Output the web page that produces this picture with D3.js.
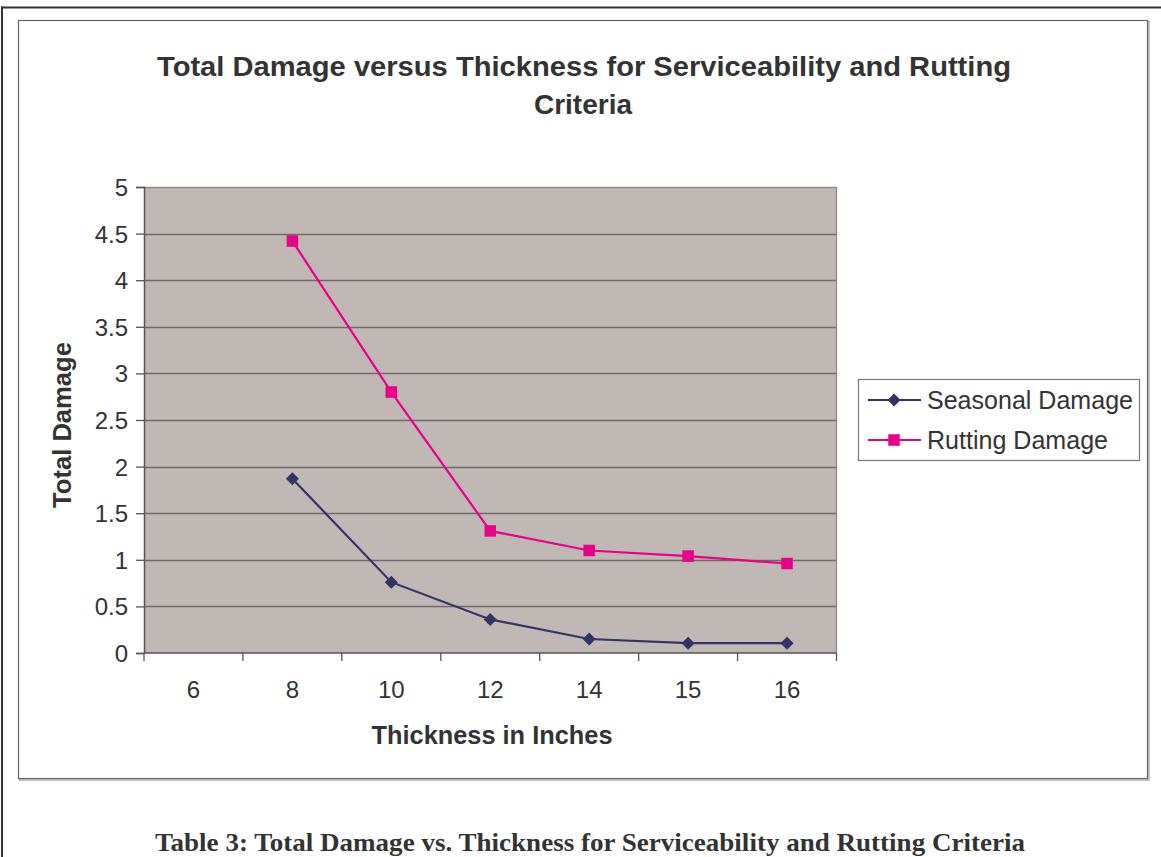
<!DOCTYPE html>
<html>
<head>
<meta charset="utf-8">
<script src="https://cdn.jsdelivr.net/npm/d3@7"></script>
<style>
  html, body { margin: 0; padding: 0; background: #fff; }
  svg { display: block; }
</style>
</head>
<body>
<svg id="chart" width="1161" height="857"></svg>
<script>
// ---- data ----
const categories = ["6", "8", "10", "12", "14", "15", "16"];
const seasonalDamage = [null, 1.87, 0.76, 0.36, 0.15, 0.105, 0.105];
const ruttingDamage = [null, 4.42, 2.80, 1.31, 1.10, 1.04, 0.96];
const yTicks = [0, 0.5, 1, 1.5, 2, 2.5, 3, 3.5, 4, 4.5, 5];
const seriesNames = ["Seasonal Damage", "Rutting Damage"];
const titleLines = ["Total Damage versus Thickness for Serviceability and Rutting", "Criteria"];
const xTitle = "Thickness in Inches";
const yTitle = "Total Damage";
const caption = "Table 3: Total Damage vs. Thickness for Serviceability and Rutting Criteria";

const colors = { seasonal: "#333366", rutting: "#E8008A", text: "#333333", plotBg: "#C0B8B5", grid: "#6E6A6A" };
const sans = "'Liberation Sans', Arial, sans-serif";
const serif = "'Liberation Serif', 'Times New Roman', serif";

const svg = d3.select("#chart");

// outer page frame
svg.append("line").attr("x1", 1).attr("x2", 1161).attr("y1", 7.5).attr("y2", 7.5)
  .attr("stroke", "#333").attr("stroke-width", 2);
svg.append("line").attr("x1", 2).attr("x2", 2).attr("y1", 6.5).attr("y2", 857)
  .attr("stroke", "#333").attr("stroke-width", 2);

// chart area frame (with slight shadow)
svg.append("rect").attr("x", 19.5).attr("y", 21.5).attr("width", 1129.5).attr("height", 758.5)
  .attr("fill", "none").attr("stroke", "#999").attr("stroke-width", 1.2);
svg.append("rect").attr("x", 18.5).attr("y", 20.5).attr("width", 1129).attr("height", 758)
  .attr("fill", "#fff").attr("stroke", "#666").attr("stroke-width", 1.2);

// title
const title = svg.append("text").attr("font-family", sans).attr("font-weight", "bold")
  .attr("font-size", 28).attr("fill", colors.text).attr("text-anchor", "middle");
title.append("tspan").attr("x", 584).attr("y", 76).text(titleLines[0])
  .attr("textLength", 854).attr("lengthAdjust", "spacingAndGlyphs");
title.append("tspan").attr("x", 583).attr("y", 114).text(titleLines[1]);

// scales
const plot = { left: 144, right: 836.5, top: 187, bottom: 653 };
const x = d3.scaleBand().domain(categories).range([plot.left, plot.right]).padding(0);
const y = d3.scaleLinear().domain([0, 5]).range([plot.bottom, plot.top]);

// plot background
svg.append("rect").attr("x", plot.left).attr("y", plot.top)
  .attr("width", plot.right - plot.left).attr("height", plot.bottom - plot.top)
  .attr("fill", colors.plotBg);

// gridlines
svg.append("g").selectAll("line").data(yTicks.filter(d => d > 0)).join("line")
  .attr("x1", plot.left).attr("x2", plot.right)
  .attr("y1", d => Math.round(y(d)) + 0.5).attr("y2", d => Math.round(y(d)) + 0.5)
  .attr("stroke", d => d === 5 ? "#8a8a8a" : colors.grid).attr("stroke-width", 1.3);

// right border of plot
svg.append("line").attr("x1", plot.right).attr("x2", plot.right).attr("y1", plot.top).attr("y2", plot.bottom)
  .attr("stroke", "#8a8a8a").attr("stroke-width", 1.3);

// y axis
const yAxis = d3.axisLeft(y).tickValues(yTicks).tickSize(8).tickPadding(8).tickFormat(d3.format("~g"));
const gy = svg.append("g").attr("transform", `translate(${plot.left},0)`).call(yAxis);
gy.select(".domain").attr("stroke", "#555").attr("stroke-width", 1.5);
gy.selectAll(".tick line").attr("stroke", "#555").attr("stroke-width", 1.3);
gy.selectAll(".tick text").attr("font-family", sans).attr("font-size", 24).attr("fill", colors.text)
  .attr("dy", "0.35em");

// x axis: ticks at category boundaries
const boundaries = categories.map(c => x(c)).concat([plot.right]);
const gx = svg.append("g").attr("transform", `translate(0,${plot.bottom})`);
gx.append("line").attr("x1", plot.left).attr("x2", plot.right).attr("y1", 0).attr("y2", 0)
  .attr("stroke", "#555").attr("stroke-width", 1.5);
gx.selectAll("line.tk").data(boundaries).join("line").attr("class", "tk")
  .attr("x1", d => d).attr("x2", d => d).attr("y1", 0).attr("y2", 8)
  .attr("stroke", "#555").attr("stroke-width", 1.3);
gx.selectAll("text").data(categories).join("text")
  .attr("x", d => x(d) + x.bandwidth() / 2).attr("y", 45)
  .attr("text-anchor", "middle").attr("font-family", sans).attr("font-size", 24)
  .attr("fill", colors.text).text(d => d);

// axis titles
svg.append("text").attr("x", 492).attr("y", 744).attr("text-anchor", "middle")
  .attr("font-family", sans).attr("font-weight", "bold").attr("font-size", 25)
  .attr("fill", colors.text).text(xTitle)
  .attr("textLength", 241).attr("lengthAdjust", "spacingAndGlyphs");
svg.append("text").attr("transform", "translate(71,425) rotate(-90)").attr("text-anchor", "middle")
  .attr("font-family", sans).attr("font-weight", "bold").attr("font-size", 25)
  .attr("fill", colors.text).text(yTitle)
  .attr("textLength", 166).attr("lengthAdjust", "spacingAndGlyphs");

// series
const seasonalPts = categories.map((c, i) => ({ c, v: seasonalDamage[i] })).filter(d => d.v !== null);
const ruttingPts = categories.map((c, i) => ({ c, v: ruttingDamage[i] })).filter(d => d.v !== null);
const line = d3.line().x(d => x(d.c) + x.bandwidth() / 2).y(d => y(d.v));

svg.append("path").datum(seasonalPts).attr("d", line).attr("fill", "none")
  .attr("stroke", colors.seasonal).attr("stroke-width", 2.2);
svg.append("path").datum(ruttingPts).attr("d", line).attr("fill", "none")
  .attr("stroke", colors.rutting).attr("stroke-width", 2.2);

const diamond = d3.symbol().type(d3.symbolSquare).size(85);
svg.append("g").selectAll("path").data(seasonalPts).join("path")
  .attr("d", diamond())
  .attr("transform", d => `translate(${x(d.c) + x.bandwidth() / 2},${y(d.v)}) rotate(45)`)
  .attr("fill", colors.seasonal);
svg.append("g").selectAll("rect").data(ruttingPts).join("rect")
  .attr("x", d => x(d.c) + x.bandwidth() / 2 - 5.75).attr("y", d => y(d.v) - 5.75)
  .attr("width", 11.5).attr("height", 11.5).attr("fill", colors.rutting);

// legend
const lg = svg.append("g");
lg.append("rect").attr("x", 858.5).attr("y", 379.5).attr("width", 281).attr("height", 81)
  .attr("fill", "#fff").attr("stroke", "#777").attr("stroke-width", 1.2);
const legendItems = [
  { name: seriesNames[0], color: colors.seasonal, kind: "diamond", cy: 400, len: 206 },
  { name: seriesNames[1], color: colors.rutting, kind: "square", cy: 440, len: 181 }
];
legendItems.forEach(it => {
  lg.append("line").attr("x1", 868).attr("x2", 921).attr("y1", it.cy).attr("y2", it.cy)
    .attr("stroke", it.color).attr("stroke-width", 2.2);
  if (it.kind === "diamond") {
    lg.append("path").attr("d", diamond()).attr("transform", `translate(894,${it.cy}) rotate(45)`)
      .attr("fill", it.color);
  } else {
    lg.append("rect").attr("x", 888.25).attr("y", it.cy - 5.75).attr("width", 11.5).attr("height", 11.5)
      .attr("fill", it.color);
  }
  lg.append("text").attr("x", 927).attr("y", it.cy).attr("dy", "0.35em")
    .attr("font-family", sans).attr("font-size", 25).attr("fill", colors.text).text(it.name)
    .attr("textLength", it.len).attr("lengthAdjust", "spacingAndGlyphs");
});

// caption
svg.append("text").attr("x", 590).attr("y", 851).attr("text-anchor", "middle")
  .attr("font-family", serif).attr("font-weight", "bold").attr("font-size", 26)
  .attr("fill", "#333").text(caption)
  .attr("textLength", 870).attr("lengthAdjust", "spacingAndGlyphs");
</script>
</body>
</html>
